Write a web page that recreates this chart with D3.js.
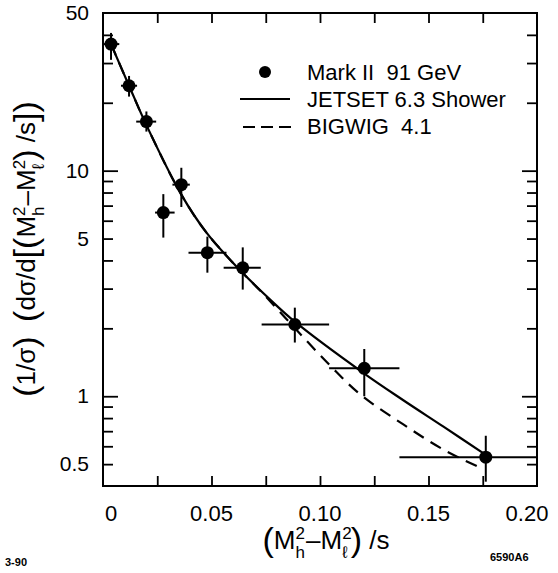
<!DOCTYPE html>
<html>
<head>
<meta charset="utf-8">
<script src="https://cdn.jsdelivr.net/npm/d3@7"></script>
<style>
  body { margin: 0; background: #fff; }
  text { font-family: "Liberation Sans", Arial, sans-serif; fill: #000; }
</style>
</head>
<body>
<div id="chart"></div>
<script>
// data {{{
const xTicks = [0, 0.05, 0.10, 0.15, 0.20];
const xTickLabels = ["0", "0.05", "0.10", "0.15", "0.20"];
const yTicks = [0.5, 1, 5, 10, 50];
const yTickLabels = ["0.5", "1", "5", "10", "50"];

// Mark II 91 GeV points
const dataX = [0.0037, 0.012, 0.020, 0.0278, 0.0361, 0.0481, 0.0644, 0.0884, 0.1204, 0.1764];
const dataY = [36.4, 23.8, 16.5, 6.52, 8.67, 4.33, 3.71, 2.08, 1.33, 0.537];
const yLo = [31.0, 21.3, 14.9, 5.05, 6.9, 3.53, 2.97, 1.73, 1.0, 0.418];
const yHi = [40.8, 26.3, 18.3, 7.87, 10.3, 5.10, 4.57, 2.47, 1.62, 0.668];
const xLo = [0, 0.0083, 0.0153, 0.024, 0.032, 0.0394, 0.0556, 0.0731, 0.1042, 0.1366];
const xHi = [0.0075, 0.0157, 0.0245, 0.033, 0.040, 0.0569, 0.0727, 0.1042, 0.1366, 0.2];

// JETSET 6.3 Shower
const jetX = [0.0037, 0.012, 0.0199, 0.0361, 0.0477, 0.0616, 0.0769, 0.0884, 0.1204, 0.1384, 0.1569, 0.1764];
const jetY = [36.4, 23.8, 16.0, 7.83, 5.31, 3.75, 2.69, 2.14, 1.26, 0.96, 0.733, 0.55];

// BIGWIG 4.1
const bigX = [0.0037, 0.012, 0.0199, 0.0361, 0.0477, 0.0616, 0.0736, 0.0889, 0.1046, 0.1185, 0.1384, 0.1569, 0.1755];
const bigY = [36.4, 23.8, 16.0, 7.83, 5.31, 3.75, 2.86, 1.98, 1.37, 1.02, 0.75, 0.58, 0.474];

const legendLabels = ["Mark II\u00a0\u00a091 GeV", "JETSET 6.3 Shower", "BIGWIG\u00a0\u00a04.1"];
// }}}

const W = 558, H = 573;
const plot = {left: 103, right: 537, top: 13, bottom: 486};

const svg = d3.select("#chart").append("svg")
    .attr("width", W)
    .attr("height", H);

const x = d3.scaleLinear().domain([0, 0.2]).range([plot.left, plot.right]);
const y = d3.scaleLog().domain([0.4, 50]).range([plot.bottom, plot.top]);

// frame
svg.append("rect")
    .attr("x", plot.left).attr("y", plot.top)
    .attr("width", plot.right - plot.left).attr("height", plot.bottom - plot.top)
    .attr("fill", "none").attr("stroke", "#000").attr("stroke-width", 2);

// x ticks (bottom + mirrored top, pointing inward)
const xMinor = d3.range(0.025, 0.2, 0.025);
svg.append("g")
    .attr("transform", "translate(0," + plot.bottom + ")")
    .call(d3.axisTop(x).tickValues(xMinor).tickSize(10).tickFormat(""))
    .call(g => g.select(".domain").remove())
    .selectAll("line").attr("stroke-width", 1.8);
svg.append("g")
    .attr("transform", "translate(0," + plot.top + ")")
    .call(d3.axisBottom(x).tickValues(xMinor).tickSize(10).tickFormat(""))
    .call(g => g.select(".domain").remove())
    .selectAll("line").attr("stroke-width", 1.8);

// y ticks, major at decades, minor in between
const yMajor = [1, 10];
const yMinor = [0.5, 0.6, 0.7, 0.8, 0.9, 2, 3, 4, 5, 6, 7, 8, 9, 20, 30, 40];
[[d3.axisRight, plot.left], [d3.axisLeft, plot.right]].forEach(([ax, pos]) => {
    svg.append("g")
        .attr("transform", "translate(" + pos + ",0)")
        .call(ax(y).tickValues(yMajor).tickSize(15).tickFormat(""))
        .call(g => g.select(".domain").remove())
        .selectAll("line").attr("stroke-width", 1.8);
    svg.append("g")
        .attr("transform", "translate(" + pos + ",0)")
        .call(ax(y).tickValues(yMinor).tickSize(10).tickFormat(""))
        .call(g => g.select(".domain").remove())
        .selectAll("line").attr("stroke-width", 1.8);
});

// tick labels
svg.append("g").selectAll("text")
    .data(xTicks)
    .enter().append("text")
    .attr("x", (d, i) => x(d) + (i == 0 ? 8 : i == 4 ? -10 : 0))
    .attr("y", 521)
    .attr("text-anchor", "middle")
    .attr("font-size", 22)
    .text((d, i) => xTickLabels[i]);

svg.append("g").selectAll("text")
    .data(yTicks)
    .enter().append("text")
    .attr("x", 89)
    .attr("y", d => y(d) + 7)
    .attr("text-anchor", "end")
    .attr("font-size", 21)
    .text((d, i) => yTickLabels[i]);

// curves
const line = d3.line().curve(d3.curveCatmullRom.alpha(0.5));
svg.append("path")
    .attr("d", line(jetX.map((d, i) => [x(d), y(jetY[i])])))
    .attr("fill", "none").attr("stroke", "#000").attr("stroke-width", 2.2);
svg.append("path")
    .attr("d", line(bigX.map((d, i) => [x(d), y(bigY[i])])))
    .attr("fill", "none").attr("stroke", "#000").attr("stroke-width", 2.2)
    .attr("stroke-dasharray", "12,8");

// error bars and points
const pts = svg.append("g");
dataX.forEach((d, i) => {
    pts.append("line")
        .attr("x1", x(xLo[i])).attr("x2", x(xHi[i]))
        .attr("y1", y(dataY[i])).attr("y2", y(dataY[i]))
        .attr("stroke", "#000").attr("stroke-width", 2);
    pts.append("line")
        .attr("x1", x(d)).attr("x2", x(d))
        .attr("y1", y(yLo[i])).attr("y2", y(yHi[i]))
        .attr("stroke", "#000").attr("stroke-width", 2);
    pts.append("circle")
        .attr("cx", x(d)).attr("cy", y(dataY[i]))
        .attr("r", 6.5).attr("fill", "#000");
});

// legend
const lg = svg.append("g");
lg.append("circle").attr("cx", 265).attr("cy", 72).attr("r", 6).attr("fill", "#000");
lg.append("line").attr("x1", 240).attr("x2", 290).attr("y1", 99).attr("y2", 99)
    .attr("stroke", "#000").attr("stroke-width", 2);
lg.append("line").attr("x1", 243).attr("x2", 292).attr("y1", 127).attr("y2", 127)
    .attr("stroke", "#000").attr("stroke-width", 2).attr("stroke-dasharray", "12,6");
legendLabels.forEach((t, i) => {
    lg.append("text")
        .attr("x", 307).attr("y", 80 + i * 27)
        .attr("font-size", 22)
        .text(t);
});

// math text helper: parts = [text, size, dy, dx]
function mathText(t, parts) {
    parts.forEach(p => {
        t.append("tspan")
            .attr("font-size", p[1])
            .attr("dy", p[2] || 0)
            .attr("dx", p[3] || 0)
            .text(p[0]);
    });
    return t;
}

// M_h^2 - M_l^2 with stacked super/subscripts
function massParts(s) {
    const ss = Math.round(s * 0.66);
    const back = -ss * 0.556;
    return [
        ["M", s, -2], ["2", ss, -10], ["h", ss, 19, back],
        ["\u2013M", s, -9, 1], ["2", ss, -10], ["\u2113", ss, 19, back]
    ];
}

// x axis title
mathText(svg.append("text").attr("x", 326).attr("y", 549).attr("text-anchor", "middle"),
    [["(", 34, 2]].concat(massParts(26), [[")", 34, -7, 3], [" /s", 26, -2]]));

// y axis title
mathText(svg.append("text")
        .attr("transform", "translate(35,249) rotate(-90)")
        .attr("text-anchor", "middle"),
    [["(", 34, 2], ["1/\u03c3", 26, -2], [")", 34, 2], ["\u00a0\u00a0", 26, -2],
     ["(", 34, 2], ["d\u03c3/d", 26, -2], ["[", 34, 2], ["(", 34, 0]]
     .concat(massParts(26), [[")", 34, -7, 3], [" /s", 26, -2], ["]", 34, 2], [")", 34, 0]]));

// plate ids
svg.append("text").attr("x", 5).attr("y", 566).attr("font-size", 11)
    .attr("font-weight", "bold").text("3-90");
svg.append("text").attr("x", 490).attr("y", 561).attr("font-size", 11)
    .attr("font-weight", "bold").text("6590A6");
</script>
</body>
</html>
